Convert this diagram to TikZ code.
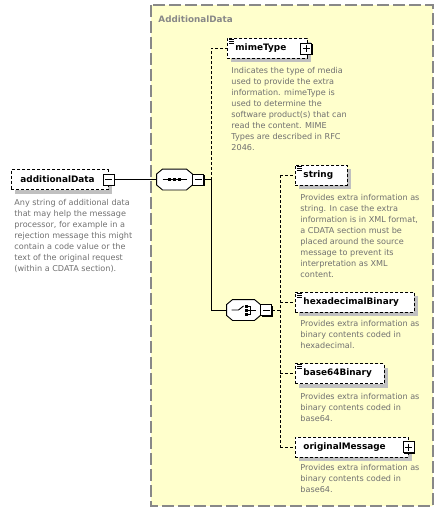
\documentclass[tikz,border=0pt]{standalone}
\usepackage{fontspec}
\setmainfont{DejaVu Sans}
\usetikzlibrary{shadows}

\definecolor{grpfill}{RGB}{255,255,204}
\definecolor{grpline}{RGB}{136,136,136}
\definecolor{desctext}{RGB}{112,112,112}
\definecolor{shade}{RGB}{192,192,192}

\tikzset{
  elem/.style={draw, dash pattern=on 3pt off 2pt, fill=white, anchor=west,
    inner xsep=8pt, inner ysep=0pt, minimum height=20pt, align=left,
    font=\bfseries\fontsize{8.9}{10}\selectfont,
    drop shadow={shadow xshift=4pt, shadow yshift=-4pt, fill=shade, opacity=1}},
  desc/.style={anchor=north west, inner sep=0pt, align=left, text=desctext,
    font=\fontsize{8.1}{11}\selectfont},
  pmbox/.style={draw, solid, fill=white, minimum size=11pt, inner sep=0pt,
    drop shadow={shadow xshift=1pt, shadow yshift=-1pt, fill=black, opacity=1}},
  minusbox/.style={pmbox, path picture={
    \draw ([xshift=2pt]path picture bounding box.west) -- ([xshift=-2pt]path picture bounding box.east);}},
  plusbox/.style={pmbox, path picture={
    \draw ([xshift=2pt]path picture bounding box.west) -- ([xshift=-2pt]path picture bounding box.east);
    \draw ([yshift=-2pt]path picture bounding box.north) -- ([yshift=2pt]path picture bounding box.south);}},
  comp/.style={inner sep=0pt, minimum width=35pt, minimum height=20pt},
  conn/.style={dash pattern=on 3pt off 2pt}
}

% little "simple type" mark in the corner of a box
\newcommand{\typemark}[1]{
  \draw[solid, line width=0.8pt] ([xshift=2pt,yshift=-1.5pt]#1.north west) -- ++(5,0);
  \draw[solid, line width=0.8pt] ([xshift=2pt,yshift=-3.5pt]#1.north west) -- ++(5,0);
  \draw[solid, line width=0.8pt] ([xshift=2pt,yshift=-5.5pt]#1.north west) -- ++(5,0);
}

% octagon outline of a compositor node, with its shadow
\newcommand{\octo}[1]{
  \fill[shade, shift={(4,4)}] ([xshift=6pt]#1.north west) -- ([xshift=-6pt]#1.north east)
    -- ([yshift=-5pt]#1.north east) -- ([yshift=5pt]#1.south east) -- ([xshift=-6pt]#1.south east)
    -- ([xshift=6pt]#1.south west) -- ([yshift=5pt]#1.south west) -- ([yshift=-5pt]#1.north west) -- cycle;
  \draw[fill=white] ([xshift=6pt]#1.north west) -- ([xshift=-6pt]#1.north east)
    -- ([yshift=-5pt]#1.north east) -- ([yshift=5pt]#1.south east) -- ([xshift=-6pt]#1.south east)
    -- ([xshift=6pt]#1.south west) -- ([yshift=5pt]#1.south west) -- ([yshift=-5pt]#1.north west) -- cycle;
}

\begin{document}
\begin{tikzpicture}[x=1pt, y=-1pt, line width=0.9pt]
\useasboundingbox (0,0) rectangle (444,513);

% group box
\draw[grpline, fill=grpfill, line width=1.3pt, dash pattern=on 12pt off 4pt] (151,5) rectangle (433,506);
\node[anchor=west, inner sep=0pt, text=grpline, font=\bfseries\fontsize{8.8}{10}\selectfont] (title) at (158,19) {AdditionalData};

% root element
\node[elem, text width=79pt, inner xsep=9pt] (addData) at (11,179.5) {additionalData};
\node[minusbox] (addM) at (addData.east) {};
\node[desc] (addDesc) at (14,199) {Any string of additional data\\that may help the message\\processor, for example in a\\rejection message this might\\contain a code value or the\\text of the original request\\(within a CDATA section).};

% sequence
\node[comp] (seq) at (174.5,179.5) {};
\octo{seq}
\node[minusbox, anchor=west] (seqM) at (seq.east) {};
\begin{scope}[shift={(seq.center)}]
\draw (-12,0) -- (12,0);
\fill (-6.5,-1.5) rectangle (-3.5,1.5);
\fill (-1.5,-1.5) rectangle (1.5,1.5);
\fill (3.5,-1.5) rectangle (6.5,1.5);
\end{scope}

% mimeType
\node[elem, text width=64pt] (mime) at (227,48.5) {mimeType};
\typemark{mime}
\node[plusbox] (mimeP) at ([xshift=-1.5pt]mime.east) {};
\node[desc] (mimeDesc) at (231,67) {Indicates the type of media\\used to provide the extra\\information. mimeType is\\used to determine the\\software product(s) that can\\read the content. MIME\\Types are described in RFC\\2046.};

% choice
\node[comp, minimum width=33pt] (ch) at (243.5,310) {};
\octo{ch}
\node[minusbox, anchor=west] (chM) at (ch.east) {};
\begin{scope}[shift={(ch.center)}]
\draw (-12,0) -- (-5,0) -- (0,-4);
\fill (1,-5.5) rectangle (4,-2.5);
\fill (1,-1.5) rectangle (4,1.5);
\fill (1,2.5) rectangle (4,5.5);
\draw[line width=0.7pt] (4,-4) -- (7,-4) -- (7,4) -- (4,4);
\draw (4,0) -- (12,0);
\end{scope}

% choice members
\node[elem, text width=36pt] (str) at (295,175) {string};
\typemark{str}
\node[desc] (strDesc) at (300,194) {Provides extra information as\\string. In case the extra\\information is in XML format,\\a CDATA section must be\\placed around the source\\message to prevent its\\interpretation as XML\\content.};

\node[elem, text width=103pt] (hex) at (295,302) {hexadecimalBinary};
\typemark{hex}
\node[desc] (hexDesc) at (300,320) {Provides extra information as\\binary contents coded in\\hexadecimal.};

\node[elem, text width=73pt] (b64) at (295,373.5) {base64Binary};
\typemark{b64}
\node[desc] (b64Desc) at (300,393) {Provides extra information as\\binary contents coded in\\base64.};

\node[elem, text width=97pt] (orig) at (295,447) {originalMessage};
\node[plusbox] (origP) at (orig.east) {};
\node[desc] (origDesc) at (300,464) {Provides extra information as\\binary contents coded in\\base64.};

% connectors
\draw (addM.east) -- (seq.west);
\coordinate (sj) at (211,179.5);
\draw (seqM.east) -- (sj) -- (sj |- ch.west) -- (ch.west);
\draw[conn] (sj) -- (sj |- mime.west) -- (mime.west);
\coordinate (cj) at (280,310);
\draw[conn] (chM.east) -- (cj);
\draw[conn] (cj |- str.west) -- (cj |- orig.west);
\draw[conn] (cj |- str.west) -- (str.west);
\draw[conn] (cj |- hex.west) -- (hex.west);
\draw[conn] (cj |- b64.west) -- (b64.west);
\draw[conn] (cj |- orig.west) -- (orig.west);
\end{tikzpicture}
\end{document}
